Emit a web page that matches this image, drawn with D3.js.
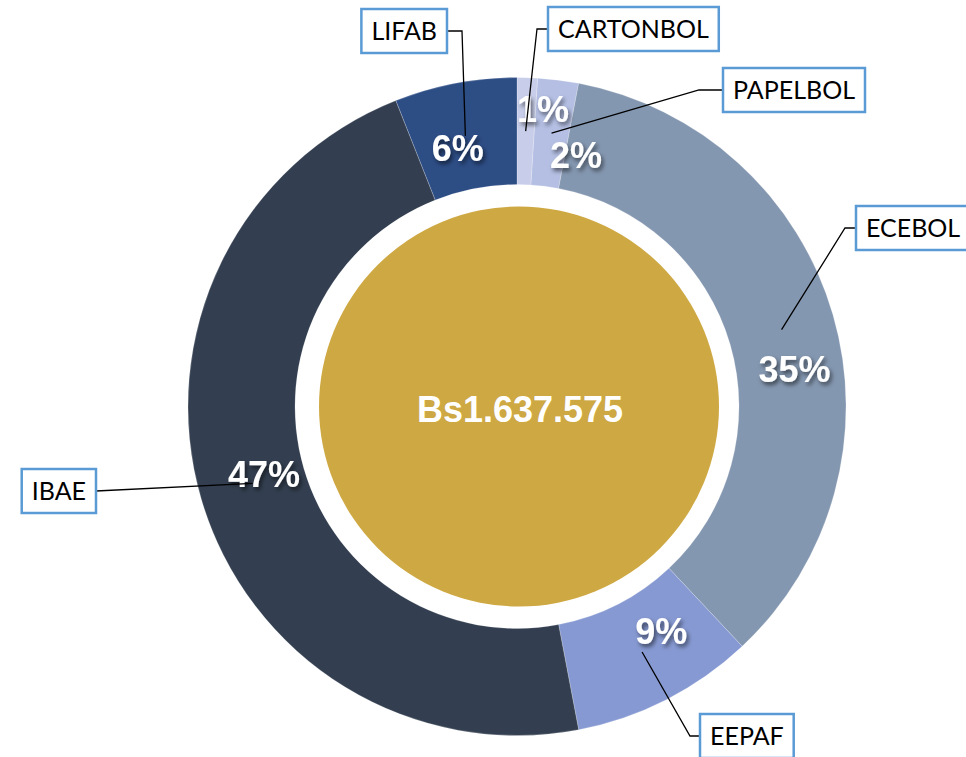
<!DOCTYPE html>
<html>
<head>
<meta charset="utf-8">
<script src="https://cdn.jsdelivr.net/npm/d3@7"></script>
<style>
  html, body { margin: 0; padding: 0; background: #fff; }
  svg { display: block; }
</style>
</head>
<body>
<svg id="chart" width="966" height="757"></svg>
<script>
// data
const categories = ["CARTONBOL", "PAPELBOL", "ECEBOL", "EEPAF", "IBAE", "LIFAB"];
const shares = [1, 2, 35, 9, 47, 6];
const totalLabel = "Bs1.637.575";

const colors = ["#c8cee9", "#b4bfe3", "#8497b0", "#8699d2", "#333f50", "#2d4d85"];

// layout of the percent labels (polar, from the ring centre) and callout boxes
const labelAngle = [5.0, 13.2, 82.3, 147.3, 254.9, 347.1];
const labelRadius = [298, 258, 280, 267, 262, 265];
// box anchor point (where the leader meets it) and which side it sits on
const boxAnchor = [[548, 29], [723, 90], [856, 228], [700, 736], [96, 491], [447, 31]];
const boxSide = ["left", "left", "left", "left", "right", "right"];
const elbow = [11, 24, 11, 10, 0, 15];

const width = 966, height = 757;
const cx = 517, cy = 406.5;
const outerR = 329, innerR = 222;

const svg = d3.select("#chart");

// drop shadow for the white percent labels
const defs = svg.append("defs");
const f = defs.append("filter").attr("id", "shadow")
    .attr("x", "-30%").attr("y", "-30%").attr("width", "160%").attr("height", "160%");
f.append("feDropShadow").attr("dx", 2).attr("dy", 3).attr("stdDeviation", 2.2)
    .attr("flood-color", "#000").attr("flood-opacity", 0.55);

const pie = d3.pie().sort(null).value(d => d);
const arcs = pie(shares);
const arc = d3.arc().innerRadius(innerR).outerRadius(outerR);

const g = svg.append("g").attr("transform", "translate(" + cx + "," + cy + ")");

g.selectAll("path.slice")
    .data(arcs)
    .enter().append("path")
    .attr("class", "slice")
    .attr("d", arc)
    .attr("fill", (d, i) => colors[i])
    .attr("stroke", "rgba(255,255,255,0.35)")
    .attr("stroke-width", 0.6);

// gold centre disc
svg.append("circle")
    .attr("cx", cx + 2).attr("cy", cy)
    .attr("r", 200)
    .attr("fill", "#cea842");

svg.append("text")
    .attr("x", cx + 3).attr("y", cy + 3)
    .attr("dy", "0.35em")
    .attr("text-anchor", "middle")
    .style("font-family", "'Liberation Sans', Arial, sans-serif")
    .style("font-weight", "bold")
    .style("font-size", "36px")
    .attr("fill", "#fff")
    .text(totalLabel);

// leader lines: box -> elbow -> slice centroid
const leaders = svg.append("g");
arcs.forEach((d, i) => {
    const c = arc.centroid(d);
    const px = cx + c[0], py = cy + c[1];
    const a = boxAnchor[i];
    const ex = boxSide[i] === "left" ? a[0] - elbow[i] : a[0] + elbow[i];
    leaders.append("path")
        .attr("d", "M" + a[0] + "," + a[1] + "L" + ex + "," + a[1] + "L" + px + "," + py)
        .attr("fill", "none")
        .attr("stroke", "#000")
        .attr("stroke-width", 1.3);
});

// percent labels
g.selectAll("text.pct")
    .data(arcs)
    .enter().append("text")
    .attr("class", "pct")
    .attr("x", (d, i) => labelRadius[i] * Math.sin(labelAngle[i] * Math.PI / 180))
    .attr("y", (d, i) => -labelRadius[i] * Math.cos(labelAngle[i] * Math.PI / 180))
    .attr("dy", "0.35em")
    .attr("text-anchor", "middle")
    .style("font-family", "'Liberation Sans', Arial, sans-serif")
    .style("font-weight", "bold")
    .style("font-size", "36px")
    .attr("fill", "#fff")
    .attr("filter", "url(#shadow)")
    .text(d => d3.format(".0f")(d.data) + "%");

// category callout boxes
const boxes = svg.append("g");
categories.forEach((name, i) => {
    const a = boxAnchor[i];
    const t = boxes.append("text")
        .style("font-family", "Lato, 'Open Sans', sans-serif")
        .style("font-size", "25px")
        .attr("fill", "#000")
        .text(name);
    const tw = t.node().getComputedTextLength();
    const bw = tw + 20, bh = 44;
    const x0 = boxSide[i] === "left" ? a[0] : a[0] - bw;
    const y0 = a[1] - bh / 2;
    boxes.insert("rect", "text")
        .attr("x", x0).attr("y", y0)
        .attr("width", bw).attr("height", bh)
        .attr("fill", "#fff")
        .attr("stroke", "#5b9bd5")
        .attr("stroke-width", 2.5);
    t.attr("x", x0 + bw / 2).attr("y", a[1])
        .attr("dy", "0.36em")
        .attr("text-anchor", "middle");
});
</script>
</body>
</html>
